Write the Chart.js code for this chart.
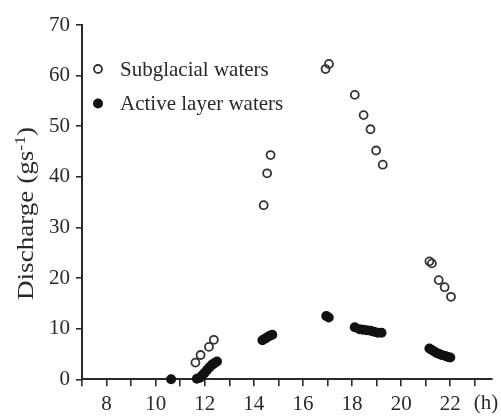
<!DOCTYPE html>
<html>
<head>
<meta charset="utf-8">
<script src="https://cdn.jsdelivr.net/npm/chart.js@4/dist/chart.umd.min.js"></script>
<style>
  html, body { margin: 0; padding: 0; background: #fff; }
  #wrap { width: 501px; height: 416px; }
</style>
</head>
<body>
<div id="wrap"><canvas id="c" width="501" height="416"></canvas></div>
<script>
// ---- data ----
const seriesNames = ["Subglacial waters", "Active layer waters"];

const subglacialHours = [11.62, 11.83, 12.17, 12.37, 14.40, 14.54, 14.68, 16.92, 17.06, 18.11, 18.47, 18.75, 18.98, 19.25, 21.15, 21.25, 21.53, 21.77, 22.03];
const subglacialQ     = [3.3,   4.8,   6.4,   7.8,   34.4,  40.7,  44.3,  61.3,  62.3,  56.2,  52.2,  49.4,  45.2,  42.4,  23.3,  22.9,  19.6,  18.2,  16.3];

const activeHours = [10.63, 11.68, 11.80, 11.90, 12.00, 12.10, 12.20, 12.30, 12.40, 12.50, 14.35, 14.45, 14.55, 14.65, 14.75, 16.95, 17.05, 18.11, 18.30, 18.45, 18.60, 18.75, 18.90, 19.05, 19.20, 21.15, 21.25, 21.35, 21.45, 21.55, 21.65, 21.80, 21.90, 22.00];
const activeQ     = [0.0,   0.1,   0.3,   0.8,   1.3,   1.9,   2.4,   2.9,   3.2,   3.5,   7.7,   8.0,   8.3,   8.6,   8.8,   12.5,  12.2,  10.3,  9.9,   9.8,   9.7,   9.6,   9.4,   9.2,   9.2,   6.1,   5.8,   5.5,   5.2,   5.0,   4.8,   4.6,   4.4,   4.3];

const xTicks = { min: 7, max: 23.7, step: 1, labelEvery: 2 };
const yTicks = { min: 0, max: 70, step: 10 };
const yTitle = ["Discharge (gs", "-1", ")"];
const xUnit = "(h)";

// ---- build ----
const toPts = (xs, ys) => xs.map((x, i) => ({ x: x, y: ys[i] }));
const SERIF = "'Liberation Serif', 'Times New Roman', serif";
const INK = "#2a2a2a";

const extras = {
  id: 'extras',
  afterDraw(chart) {
    const ctx = chart.ctx;
    ctx.save();
    ctx.fillStyle = INK;
    // y title (rotated, with superscript)
    const f = 23;
    ctx.font = f + "px " + SERIF;
    const w1 = ctx.measureText(yTitle[0]).width;
    ctx.font = Math.round(f * 0.65) + "px " + SERIF;
    const w2 = ctx.measureText(yTitle[1]).width;
    ctx.font = f + "px " + SERIF;
    const w3 = ctx.measureText(yTitle[2]).width;
    const total = w1 + w2 + w3;
    const targetLen = 173;
    const sx = targetLen / total;
    ctx.translate(27, 213.5);
    ctx.rotate(-Math.PI / 2);
    ctx.scale(sx, 1);
    ctx.textBaseline = 'middle';
    ctx.textAlign = 'left';
    let x0 = -total / 2;
    ctx.font = f + "px " + SERIF;
    ctx.fillText(yTitle[0], x0, 0);
    ctx.font = Math.round(f * 0.65) + "px " + SERIF;
    ctx.fillText(yTitle[1], x0 + w1, -6);
    ctx.font = f + "px " + SERIF;
    ctx.fillText(yTitle[2], x0 + w1 + w2, 0);
    ctx.restore();

    // x unit label
    ctx.save();
    ctx.fillStyle = INK;
    ctx.font = "21px " + SERIF;
    ctx.textAlign = 'center';
    ctx.textBaseline = 'middle';
    ctx.fillText(xUnit, 486, 403);
    ctx.restore();

    // legend
    ctx.save();
    const rows = [69, 103.5];
    chart.data.datasets.forEach((ds, i) => {
      ctx.fillStyle = ds.pointBackgroundColor;
      ctx.strokeStyle = ds.pointBorderColor;
      ctx.lineWidth = ds.pointBorderWidth;
      ctx.beginPath();
      ctx.arc(98, rows[i], ds.pointRadius, 0, Math.PI * 2);
      if (ds.pointBackgroundColor !== 'rgba(0,0,0,0)') ctx.fill();
      if (ds.pointBorderWidth > 0) ctx.stroke();
      ctx.fillStyle = INK;
      ctx.font = "21px " + SERIF;
      ctx.textAlign = 'left';
      ctx.textBaseline = 'middle';
      ctx.fillText(ds.label, 120, rows[i] + 1);
    });
    ctx.restore();
  }
};

new Chart(document.getElementById('c'), {
  type: 'scatter',
  data: {
    datasets: [
      {
        label: seriesNames[0],
        data: toPts(subglacialHours, subglacialQ),
        pointRadius: 4,
        pointBorderWidth: 1.8,
        pointBackgroundColor: 'rgba(0,0,0,0)',
        pointBorderColor: '#333',
        showLine: false,
        clip: false
      },
      {
        label: seriesNames[1],
        data: toPts(activeHours, activeQ),
        pointRadius: 5,
        pointBorderWidth: 0,
        pointBackgroundColor: '#111',
        pointBorderColor: '#111',
        showLine: false,
        clip: false
      }
    ]
  },
  options: {
    responsive: false,
    animation: false,
    devicePixelRatio: 1,
    layout: { padding: { top: 25, right: 9, left: 0, bottom: 0 } },
    plugins: { legend: { display: false }, tooltip: { enabled: false } },
    scales: {
      x: {
        type: 'linear',
        min: xTicks.min,
        max: xTicks.max,
        afterFit(scale) { scale.height = 36.7; },
        afterBuildTicks(scale) {
          const t = [];
          for (let v = xTicks.min; v <= xTicks.max + 1e-9; v += xTicks.step) t.push({ value: v });
          scale.ticks = t;
        },
        ticks: {
          autoSkip: false,
          maxRotation: 0,
          padding: 6,
          color: INK,
          font: { family: SERIF, size: 21 },
          callback: (v) => (v % xTicks.labelEvery === 0 ? String(v) : '')
        },
        grid: { drawOnChartArea: false, drawTicks: true, tickLength: 7, color: INK, lineWidth: 1.6 },
        border: { display: true, color: INK, width: 2 }
      },
      y: {
        type: 'linear',
        min: yTicks.min,
        max: yTicks.max,
        afterFit(scale) { scale.width = 82; },
        ticks: {
          stepSize: yTicks.step,
          padding: 6,
          color: INK,
          font: { family: SERIF, size: 21 }
        },
        grid: { drawOnChartArea: false, drawTicks: true, tickLength: 6, color: INK, lineWidth: 1.6 },
        border: { display: true, color: INK, width: 2 }
      }
    }
  },
  plugins: [extras]
});
</script>
</body>
</html>
